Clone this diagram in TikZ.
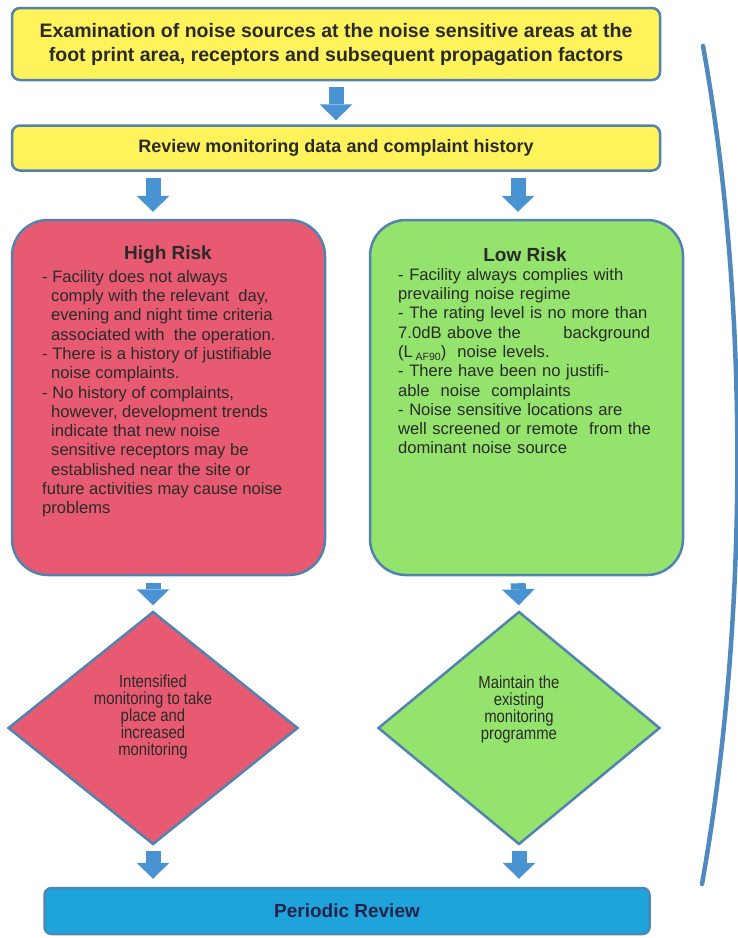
\documentclass[tikz,border=0pt]{standalone}
\usepackage{fontspec}
\setmainfont{Liberation Sans}
\newfontfamily\narrowfont[FakeStretch=0.85]{Liberation Sans}
\usetikzlibrary{shapes.geometric, arrows.meta, positioning, calc}

\definecolor{boxyellow}{HTML}{FEF35A}
\definecolor{edgeblue}{HTML}{5283B0}
\definecolor{riskred}{HTML}{E85A71}
\definecolor{riskgreen}{HTML}{94E36C}
\definecolor{reviewblue}{HTML}{1EA3DA}
\definecolor{arrowblue}{HTML}{4A93D2}
\definecolor{inkgray}{HTML}{2A2A2A}

\newcommand{\ind}{\hspace*{9pt}}

\tikzset{
  frame/.style={draw=edgeblue, line width=2.5pt, inner sep=0pt},
  bar/.style={frame, fill=boxyellow, rounded corners=8pt, minimum width=648pt},
  riskbox/.style={frame, rounded corners=36pt, minimum width=313pt, minimum height=355pt},
  riskdiamond/.style={frame, diamond, minimum width=290pt, minimum height=233pt},
  headtext/.style={text=inkgray, font=\fontsize{19}{23}\selectfont\bfseries},
  bodytext/.style={text=inkgray, inner sep=0pt, align=left, font=\fontsize{16.6}{19.3}\selectfont},
  diatext/.style={text=inkgray, inner sep=0pt, align=center, font=\narrowfont\fontsize{17.5}{17}\selectfont},
  flowarrow/.style={draw=arrowblue, line width=15pt,
    -{Triangle[length=16pt, width=33pt, line width=0pt]}}
}

\begin{document}
\begin{tikzpicture}[x=1pt, y=-1pt]
  \useasboundingbox (0,0) rectangle (738,938);
  % columns
  \coordinate (lcol) at (153,0);
  \coordinate (rcol) at (518,0);
  % Header boxes
  \node[bar, minimum height=72pt, align=center, text=inkgray,
    font=\fontsize{19.5}{24}\selectfont\bfseries] (exam) at (336,44)
    {Examination of noise sources at the noise sensitive areas at the\\
     foot print area, receptors and subsequent propagation factors};
  \node[bar, minimum height=45pt, text=inkgray,
    font=\fontsize{18}{22}\selectfont\bfseries] (review) at (336,148)
    {Review monitoring data and complaint history};
  % Risk boxes
  \node[riskbox, fill=riskred] (high) at (168.5,397.5) {};
  \node[riskbox, fill=riskgreen] (low) at (526.5,397.5) {};
  \node[headtext] (highhead) at (168,255) {High Risk};
  \node[headtext] (lowhead) at (525,255) {Low Risk};
  \node[bodytext, anchor=north west] (hightxt) at (42,270) {%
    - Facility does not always\\
    \ind comply with the relevant\ \ day,\\
    \ind evening and night time criteria\\
    \ind associated with\ \ the operation.\\
    - There is a history of justifiable\\
    \ind noise complaints.\\
    - No history of complaints,\\
    \ind however, development trends\\
    \ind indicate that new noise\\
    \ind sensitive receptors may be\\
    \ind established near the site or\\
    future activities may cause noise\\
    problems};
  \node[bodytext, anchor=north west, text width=268pt] (lowtxt) at (398,268) {%
    - Facility always complies with\\
    prevailing noise regime\\
    - The rating level is no more than\\
    \makebox[252pt][l]{7.0dB above the\hfill background}\\
    (L\,\raisebox{-3pt}{\fontsize{10.5}{11}\selectfont AF90})\ \ noise levels.\\
    - There have been no justifi-\\
    able\ \ noise\ \ complaints\\
    - Noise sensitive locations are\\
    well screened or remote\ \ from the\\
    dominant noise source};
  % Monitoring decisions
  \node[riskdiamond, fill=riskred] (hidia) at (153,728) {};
  \node[riskdiamond, fill=riskgreen, minimum width=282pt] (lodia) at (519,728) {};
  \node[diatext] (hidiatxt) at (153,717)
    {Intensified\\ monitoring to take\\ place and\\ increased\\ monitoring};
  \node[diatext] (lodiatxt) at (519,709)
    {Maintain the\\ existing\\ monitoring\\ programme};
  % Periodic review
  \node[frame, draw=edgeblue!80!reviewblue, fill=reviewblue, rounded corners=7pt,
    minimum width=605pt, minimum height=46pt, text=inkgray!85!blue,
    font=\fontsize{19}{23}\selectfont\bfseries] (periodic) at (347,911) {Periodic Review};
  % Arrows
  \draw[flowarrow, shorten <=6pt, shorten >=4pt] (exam.south) -- (review.north);
  \draw[flowarrow, shorten <=6pt, shorten >=7pt] (review.south -| lcol) -- (high.north -| lcol);
  \draw[flowarrow, shorten <=6pt, shorten >=7pt] (review.south -| rcol) -- (low.north -| rcol);
  \draw[flowarrow, shorten <=7pt, shorten >=5pt] (high.south -| lcol) -- (hidia.north);
  \draw[flowarrow, shorten <=7pt, shorten >=5pt] (low.south -| rcol) -- (lodia.north);
  \draw[flowarrow, shorten <=5pt, shorten >=8pt] (hidia.south) -- (periodic.north -| hidia);
  \draw[flowarrow, shorten <=5pt, shorten >=8pt] (lodia.south) -- (periodic.north -| lodia);
  % Review loop
  \coordinate (looptop) at (703,46);
  \coordinate (loopend) at (702,884);
  \draw[edgeblue!60!arrowblue, line width=4.5pt, line cap=round]
    (looptop) .. controls (749,300) and (749,620) .. (loopend);
\end{tikzpicture}
\end{document}
